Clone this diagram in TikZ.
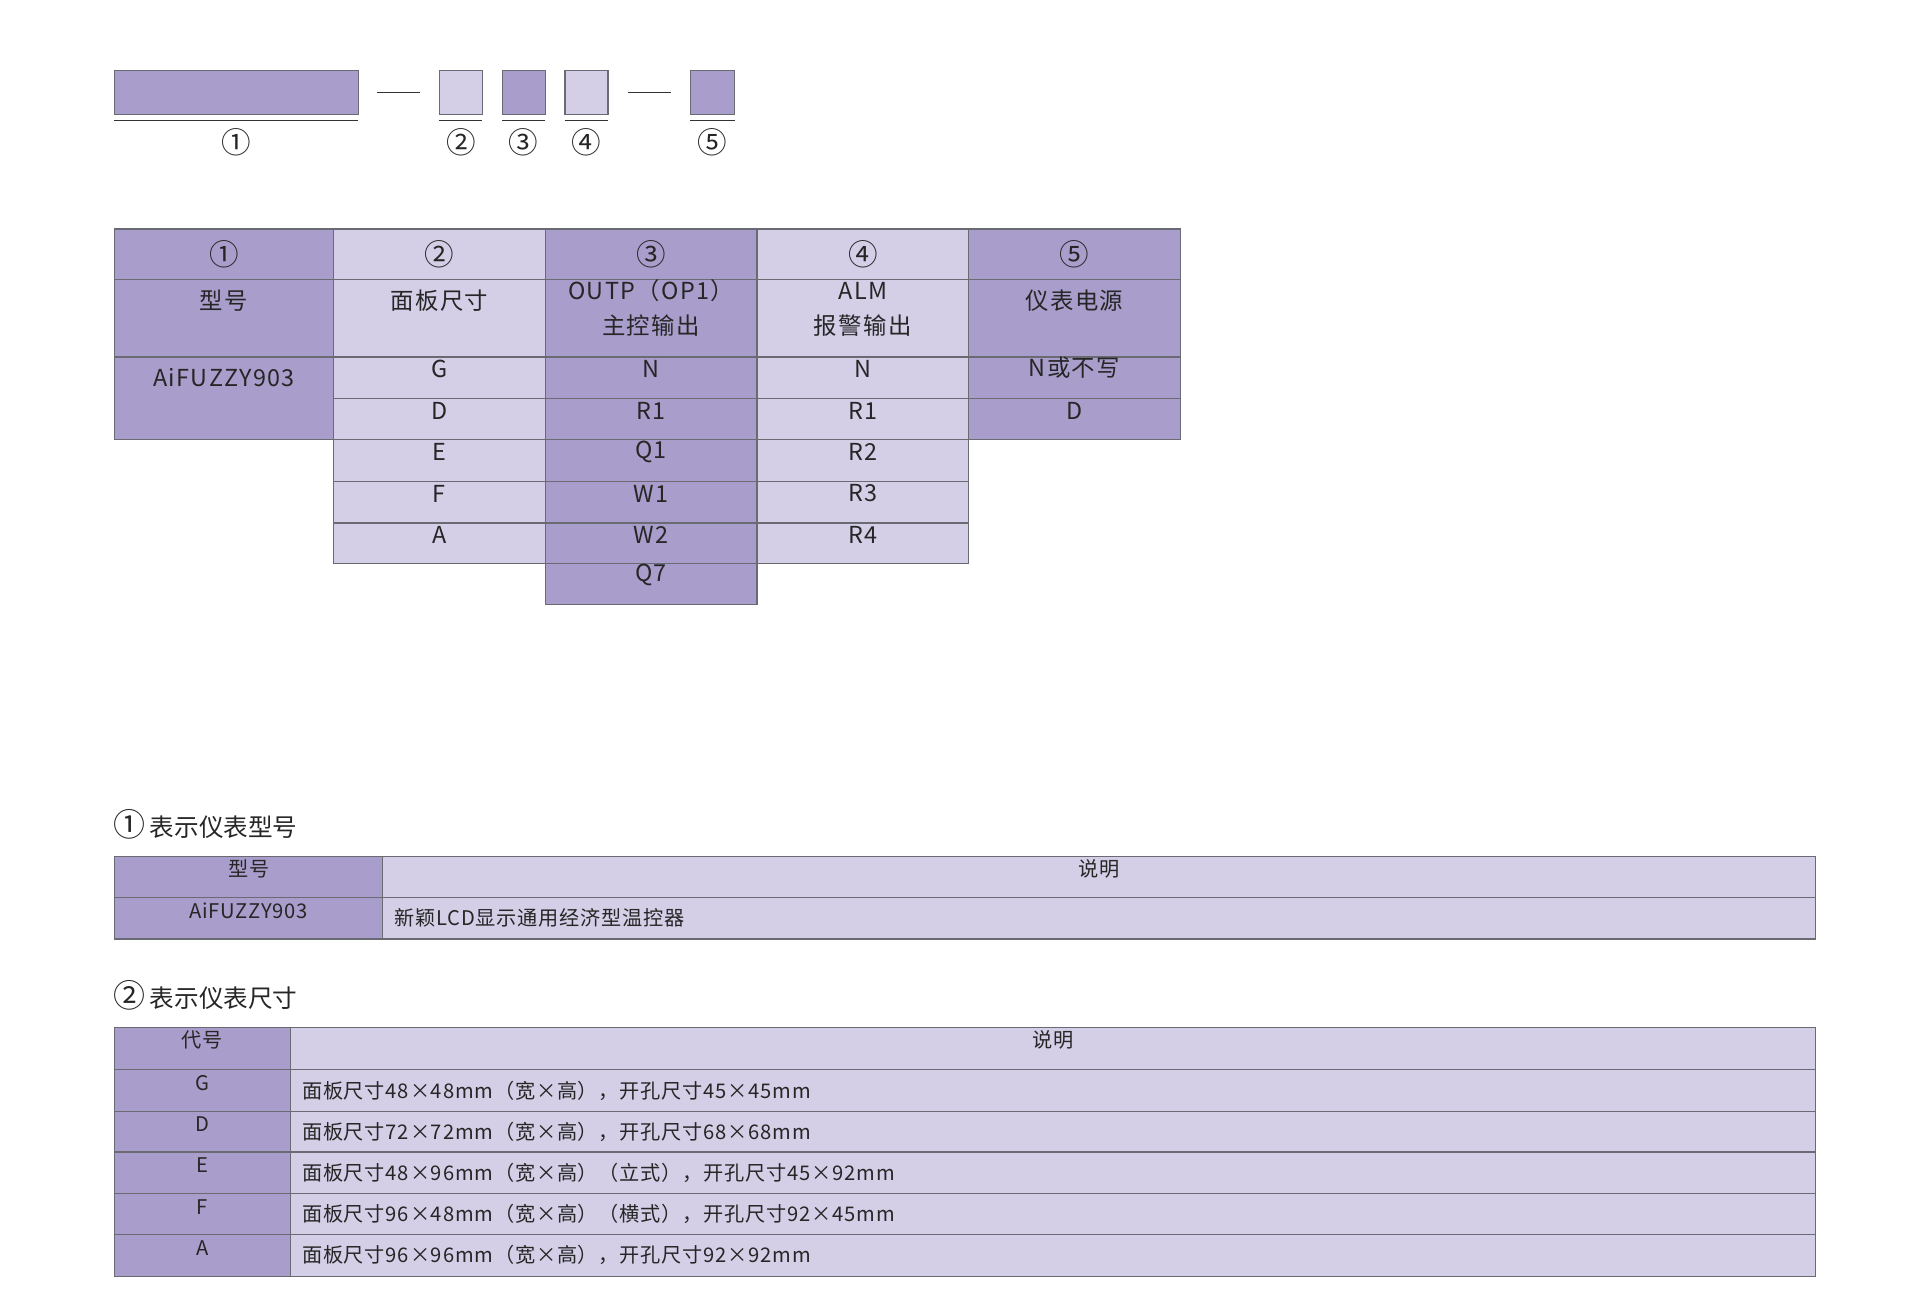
\documentclass[tikz,border=0pt]{standalone}
\usepackage{fontspec}
\setmainfont{Noto Sans CJK SC}
\usetikzlibrary{fit}
\definecolor{dk}{HTML}{A89DCB}
\definecolor{lt}{HTML}{D4CFE7}
\definecolor{bd}{HTML}{6A6A72}
\begin{document}
\begin{tikzpicture}[x=0.5pt,y=-0.5pt,
  cell/.style={draw=bd,line width=0.5pt,inner sep=0pt,font=\fontsize{9.5}{11}\selectfont\addfontfeature{LetterSpace=6},text=black!85},
  sm/.style={cell,font=\fontsize{8.2}{10}\selectfont\addfontfeature{LetterSpace=4}},
  txt/.style={inner sep=0pt,font=\fontsize{9.5}{11}\selectfont\addfontfeature{LetterSpace=6},text=black!85},
  stxt/.style={inner sep=0pt,font=\fontsize{8.2}{10}\selectfont\addfontfeature{LetterSpace=4},text=black!85},
  circ/.style={inner sep=0pt,font=\fontsize{12}{12}\selectfont,text=black!85},
  ttl/.style={inner sep=0pt,anchor=west,font=\fontsize{10}{12}\selectfont,text=black!85},
  ul/.style={draw=black!80,line width=0.6pt}]
\useasboundingbox (0,0) rectangle (1560,1047.3);
% code row
\node[cell,fill=dk,fit={(93,57)(291,93)}] (b1) {};
\node[cell,fill=lt,fit={(357,57)(392,93)}] (b2) {};
\node[cell,fill=dk,fit={(408,57)(443,93)}] (b3) {};
\node[cell,fill=lt,fit={(459,57)(494,93)}] (b4) {};
\node[cell,fill=dk,fit={(561,57)(597,93)}] (b5) {};
\draw[ul] (306,75) -- (341,75);
\draw[ul] (510,75) -- (545,75);
\draw[ul] (93,98) -- (291,98);
\draw[ul] (357,98) -- (392,98);
\draw[ul] (408,98) -- (443,98);
\draw[ul] (459,98) -- (494,98);
\draw[ul] (561,98) -- (597,98);
\node[circ] (c1) at (192,116) {①};
\node[circ] (c2) at (374.5,116) {②};
\node[circ] (c3) at (425.5,116) {③};
\node[circ] (c4) at (476.5,116) {④};
\node[circ] (c5) at (579,116) {⑤};
% main table
% col1
\node[cell,fill=dk,fit={(93,186)(271,227)}] (h1) {};
\node[circ] at (h1) {①};
\node[cell,fill=dk,fit={(93,227)(271,290)}] (n1) {};
\node[txt] at (182,244) {型号};
\node[cell,fill=dk,fit={(93,290)(271,357)}] (m1) {};
\node[txt] at (182,307) {AiFUZZY903};
% col2
\node[cell,fill=lt,fit={(271,186)(443,227)}] (h2) {};
\node[circ] at (h2) {②};
\node[cell,fill=lt,fit={(271,227)(443,290)}] (n2) {};
\node[txt] at (357,244) {面板尺寸};
\node[cell,fill=lt,fit={(271,290)(443,324)}] (g2) {G};
\node[cell,fill=lt,fit={(271,324)(443,357)}] (d2) {D};
\node[cell,fill=lt,fit={(271,357)(443,391)}] (e2) {E};
\node[cell,fill=lt,fit={(271,391)(443,425)}] (f2) {F};
\node[cell,fill=lt,fit={(271,425)(443,458)}] (a2) {A};
% col3
\node[cell,fill=dk,fit={(443,186)(615,227)}] (h3) {};
\node[circ] at (h3) {③};
\node[cell,fill=dk,fit={(443,227)(615,290)},align=center] (n3) {OUTP（OP1）\\[3pt]主控输出};
\node[cell,fill=dk,fit={(443,290)(615,324)}] (r31) {N};
\node[cell,fill=dk,fit={(443,324)(615,357)}] (r32) {R1};
\node[cell,fill=dk,fit={(443,357)(615,391)}] (r33) {Q1};
\node[cell,fill=dk,fit={(443,391)(615,425)}] (r34) {W1};
\node[cell,fill=dk,fit={(443,425)(615,458)}] (r35) {W2};
\node[cell,fill=dk,fit={(443,458)(615,491)}] (r36) {Q7};
% col4
\node[cell,fill=lt,fit={(615,186)(787,227)}] (h4) {};
\node[circ] at (h4) {④};
\node[cell,fill=lt,fit={(615,227)(787,290)},align=center] (n4) {ALM\\[3pt]报警输出};
\node[cell,fill=lt,fit={(615,290)(787,324)}] (r41) {N};
\node[cell,fill=lt,fit={(615,324)(787,357)}] (r42) {R1};
\node[cell,fill=lt,fit={(615,357)(787,391)}] (r43) {R2};
\node[cell,fill=lt,fit={(615,391)(787,425)}] (r44) {R3};
\node[cell,fill=lt,fit={(615,425)(787,458)}] (r45) {R4};
% col5
\node[cell,fill=dk,fit={(787,186)(959,227)}] (h5) {};
\node[circ] at (h5) {⑤};
\node[cell,fill=dk,fit={(787,227)(959,290)}] (n5) {};
\node[txt] at (873,244) {仪表电源};
\node[cell,fill=dk,fit={(787,290)(959,324)}] (r51) {N或不写};
\node[cell,fill=dk,fit={(787,324)(959,357)}] (r52) {D};
% section 1
\node[ttl] (t1) at (92,670) {{\fontsize{13}{13}\selectfont ①}\,表示仪表型号};
\node[sm,fill=dk,fit={(93,696)(311,729)}] (s1a) {型号};
\node[sm,fill=lt,fit={(311,696)(1475,729)}] (s1b) {说明};
\node[sm,fill=dk,fit={(93,729)(311,763)}] (s1c) {AiFUZZY903};
\node[sm,fill=lt,fit={(311,729)(1475,763)}] (s1d) {};
\node[stxt,anchor=west] at (320,746) {新颖LCD显示通用经济型温控器};
% section 2
\node[ttl] (t2) at (92,809) {{\fontsize{13}{13}\selectfont ②}\,表示仪表尺寸};
\node[sm,fill=dk,fit={(93,835)(236,869)}] (k0) {代号};
\node[sm,fill=lt,fit={(236,835)(1475,869)}] (v0) {说明};
\node[sm,fill=dk,fit={(93,869)(236,903)}] (k1) {G};
\node[sm,fill=lt,fit={(236,869)(1475,903)}] (v1) {};
\node[sm,fill=dk,fit={(93,903)(236,936)}] (k2) {D};
\node[sm,fill=lt,fit={(236,903)(1475,936)}] (v2) {};
\node[sm,fill=dk,fit={(93,936)(236,970)}] (k3) {E};
\node[sm,fill=lt,fit={(236,936)(1475,970)}] (v3) {};
\node[sm,fill=dk,fit={(93,970)(236,1003)}] (k4) {F};
\node[sm,fill=lt,fit={(236,970)(1475,1003)}] (v4) {};
\node[sm,fill=dk,fit={(93,1003)(236,1037)}] (k5) {A};
\node[sm,fill=lt,fit={(236,1003)(1475,1037)}] (v5) {};
\node[stxt,anchor=west] at (245,886) {面板尺寸48×48mm（宽×高），开孔尺寸45×45mm};
\node[stxt,anchor=west] at (245,919.5) {面板尺寸72×72mm（宽×高），开孔尺寸68×68mm};
\node[stxt,anchor=west] at (245,953) {面板尺寸48×96mm（宽×高）（立式），开孔尺寸45×92mm};
\node[stxt,anchor=west] at (245,986.5) {面板尺寸96×48mm（宽×高）（横式），开孔尺寸92×45mm};
\node[stxt,anchor=west] at (245,1020) {面板尺寸96×96mm（宽×高），开孔尺寸92×92mm};
\end{tikzpicture}
\end{document}
